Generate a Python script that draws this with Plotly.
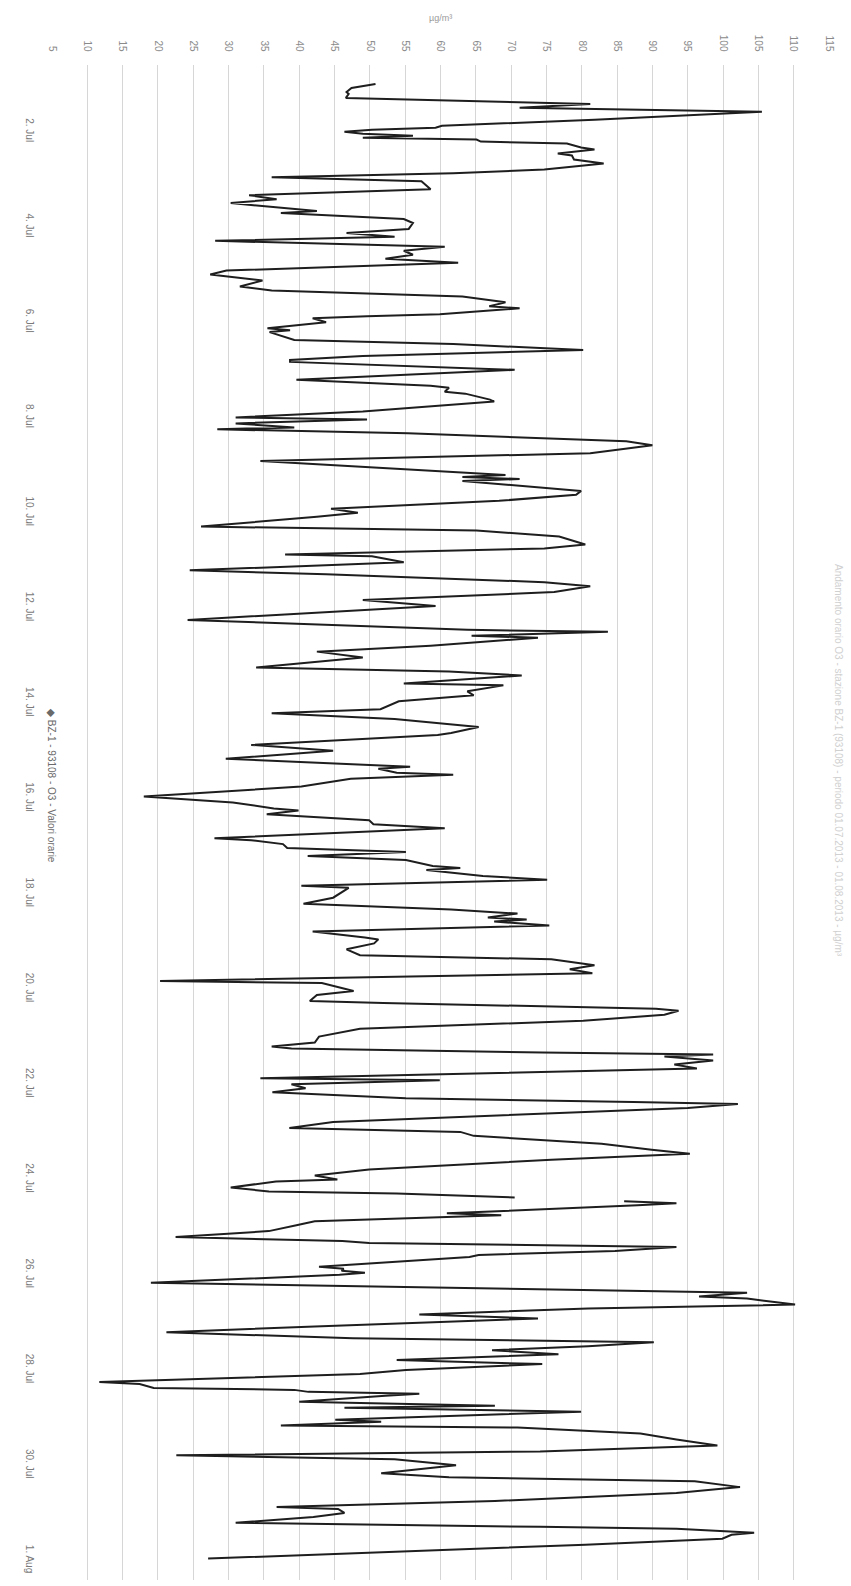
import pandas as pd
import plotly.graph_objects as go

# hours since 1 Jul 00:00 and hourly O3 values (µg/m³)
hours = [0, 1, 2, 4, 5, 7, 10, 12, 14, 18, 19, 21, 22, 23, 24, 25, 26, 27, 28, 29,
         30, 32, 33, 35, 36, 38, 40, 43, 45, 47, 49, 51, 53, 56, 58, 60, 64, 65, 68, 70,
         73, 75, 77, 79, 82, 84, 86, 88, 90, 94, 96, 99, 102, 104, 107, 110, 112, 113, 116, 117,
         118, 120, 123, 124, 125, 129, 131, 134, 137, 139, 140, 144, 147, 149, 152, 153, 155, 156, 159, 160,
         165, 168, 169, 171, 173, 174, 176, 180, 182, 186, 190, 194, 196, 197, 198, 199, 200, 205, 207, 210,
         214, 216, 218, 223, 225, 228, 232, 234, 237, 238, 241, 245, 247, 251, 253, 256, 260, 261, 263, 270,
         275, 276, 278, 279, 283, 286, 289, 294, 296, 298, 302, 303, 306, 308, 311, 315, 317, 320, 322, 324,
         327, 328, 333, 336, 340, 344, 345, 347, 348, 350, 354, 359, 362, 365, 366, 368, 371, 373, 375, 380,
         381, 383, 385, 387, 389, 391, 394, 395, 396, 399, 401, 404, 405, 410, 413, 416, 418, 420, 421, 422,
         424, 427, 430, 431, 433, 436, 439, 441, 444, 446, 448, 452, 453, 457, 459, 462, 463, 466, 467, 469,
         472, 476, 480, 483, 485, 486, 488, 489, 490, 492, 494, 496, 501, 502, 504, 506, 508, 511, 513, 514,
         516, 523, 526, 528, 530, 534, 537, 539, 542, 547, 550, 552, 553, 556, 558, 559, 561, 562, 563, 564,
         565, 567, 569, 570, 573, 575, 578, 581, 583, 584, 585, 586, 588, 590, 591, 596, 597, 598, 599, 600,
         604, 606, 608, 609, 611, 612, 615, 617, 620, 622, 626, 629, 632, 634, 636, 638, 640, 643, 645, 648,
         650, 654, 655, 657, 658, 659, 660, 661, 664, 666, 667, 669, 673, 674, 676, 677, 680, 683, 686, 689,
         691, 693, 696, 700, 702, 704, 707, 710, 714, 717, 718, 720, 722, 725, 727, 728, 730, 731, 733, 736,
         743]

o3 = [50.8, 49.0, 47.4, 46.7, 47.0, 46.6, 81.2, 71.2, 105.5, 81.8, 74.7, 60.2, 59.3, 50.3, 46.4, 49.0, 56.1, 49.0, 65.1, 65.7,
      77.9, 79.9, 81.8, 76.6, 78.6, 78.9, 83.1, 74.7, 61.8, 36.1, 57.3, 58.0, 58.6, 32.9, 36.8, 30.3, 42.5, 37.4, 54.8, 56.1,
      55.5, 46.7, 53.5, 28.1, 60.6, 54.8, 56.1, 52.2, 62.5, 29.7, 27.4, 34.8, 31.6, 36.1, 63.1, 69.2, 66.9, 71.2, 59.9, 49.6,
      41.9, 43.8, 35.5, 38.7, 35.8, 39.3, 61.8, 80.2, 49.0, 38.7, 38.7, 70.5, 52.2, 39.6, 58.6, 61.2, 60.6, 63.5, 67.0, 67.6,
      49.0, 31.0, 49.6, 31.0, 39.3, 28.4, 55.4, 86.3, 90.0, 81.2, 34.5, 53.5, 63.1, 69.2, 63.1, 71.2, 63.1, 79.9, 79.2, 68.3,
      44.5, 48.3, 42.5, 26.1, 65.1, 76.8, 80.5, 74.7, 38.0, 50.3, 54.8, 24.5, 43.8, 74.7, 81.2, 76.1, 49.0, 52.8, 59.3, 24.2,
      63.8, 83.7, 64.4, 73.8, 58.6, 42.5, 49.0, 33.9, 61.2, 71.5, 54.8, 68.9, 63.8, 64.7, 54.1, 51.5, 36.1, 53.5, 59.3, 65.4,
      61.5, 59.6, 33.2, 44.8, 29.6, 55.7, 51.2, 53.8, 61.8, 47.3, 40.3, 18.0, 30.6, 36.4, 39.9, 35.4, 49.9, 50.5, 60.6, 28.0,
      33.2, 37.7, 38.3, 55.1, 41.2, 55.1, 58.9, 62.8, 58.0, 66.0, 75.1, 40.3, 47.0, 44.8, 40.6, 61.5, 70.9, 66.7, 72.2, 67.6,
      75.4, 41.9, 49.3, 51.2, 50.6, 46.7, 48.6, 75.7, 81.8, 78.3, 81.5, 20.3, 43.2, 47.7, 42.5, 41.5, 51.9, 90.5, 93.7, 91.7,
      80.2, 48.6, 42.8, 42.2, 36.1, 38.9, 74.4, 98.6, 91.7, 98.6, 93.1, 96.3, 34.5, 59.9, 38.9, 40.9, 36.2, 55.1, 87.3, 102.1,
      95.0, 44.8, 38.6, 62.8, 64.7, 82.8, 89.9, 95.3, 75.7, 49.9, 42.2, 45.4, 36.7, 30.3, 35.7, 53.8, 70.5, None, 86.0, 93.4,
      87.9, 74.4, 60.9, 68.6, 42.2, 39.6, 35.7, 22.5, 46.1, 49.9, 74.4, 93.4, 84.7, 65.4, 64.1, 42.8, 46.3, 46.0, 49.3, 45.7,
      19.0, 55.1, 87.3, 103.4, 96.6, 103.4, 110.2, 80.9, 57.0, 73.8, 42.2, 21.2, 47.6, 90.2, 80.9, 67.3, 76.7, 53.8, 74.4, 55.1,
      48.6, 11.7, 17.4, 19.4, 39.3, 41.3, 57.0, 52.2, 40.0, 67.7, 46.4, 79.9, 45.1, 51.6, 37.4, 70.9, 88.3, 93.4, 99.2, 74.1,
      22.6, 53.5, 62.2, 51.6, 61.2, 96.0, 102.4, 93.4, 67.7, 36.8, 45.5, 46.4, 42.0, 31.0, 74.1, 93.4, 104.4, 101.2, 99.9, 80.5,
      27.1]

value_ticks = list(range(5, 120, 5))
date_ticks = ["2013-07-%02d" % d for d in range(2, 31, 2)] + ["2013-08-01"]
date_labels = ["%d. Jul" % d for d in range(2, 31, 2)] + ["1. Aug"]

series_name = "BZ-1 - 93108 - O3 - Valori orarie"
unit_label = "µg/m³"
title_text = "Andamento orario O3 - stazione BZ-1 (93108) - periodo 01.07.2013 - 01.08.2013 - µg/m³"

start = pd.Timestamp("2013-07-01 00:00")
times = [start + pd.Timedelta(hours=h) for h in hours]

W, H = 851, 1586
ML, MR, MT, MB = 52, 22, 65, 6
PH = H - MT - MB

fig = go.Figure()
fig.add_trace(go.Scatter(
    x=o3, y=times, mode="lines",
    line=dict(color="#1e1e1e", width=2),
    connectgaps=False, showlegend=False, name=series_name,
))

fig.update_layout(
    width=W, height=H,
    margin=dict(l=ML, r=MR, t=MT, b=MB),
    paper_bgcolor="white", plot_bgcolor="white",
    font=dict(family="Liberation Sans, Arial, sans-serif", size=10, color="#888888"),
    xaxis=dict(
        range=[5, 115], side="top", tickmode="array",
        tickvals=value_ticks, ticktext=[str(v) for v in value_ticks],
        tickangle=90, showgrid=True, gridcolor="#d6d6d6", gridwidth=1,
        zeroline=False, showline=False, ticks="", ticklabelstandoff=11,
        automargin=False,
        tickfont=dict(size=10, color="#8a8a8a"),
    ),
    yaxis=dict(
        type="date",
        range=[start + pd.Timedelta(hours=753.8), start - pd.Timedelta(hours=9.6)],
        tickmode="array", tickvals=date_ticks, ticktext=date_labels,
        tickangle=90, showgrid=False, zeroline=False, showline=False, ticks="",
        ticklabelstandoff=15, automargin=False,
        tickfont=dict(size=10, color="#7a7a7a"),
    ),
    annotations=[
        dict(text=unit_label, xref="paper", yref="paper", x=0.5, y=1, yshift=47,
             showarrow=False, font=dict(size=9, color="#9a9a9a"), yanchor="middle"),
        dict(text="<b>◆</b> " + series_name, xref="paper", yref="paper", x=0, xshift=0,
             y=1 - (785 - MT) / PH, showarrow=False, textangle=90,
             font=dict(size=10, color="#6a6a6a"), xanchor="center", yanchor="middle"),
        dict(text=title_text, xref="paper", yref="paper", x=1, xshift=10,
             y=1 - (760 - MT) / PH, showarrow=False, textangle=90,
             font=dict(size=10, color="#d0d0d0"), xanchor="center", yanchor="middle"),
    ],
)

fig.write_html(
    "out.html",
    config={"displayModeBar": False},
    post_script="document.body.style.margin='0';document.body.style.overflow='hidden';",
)
